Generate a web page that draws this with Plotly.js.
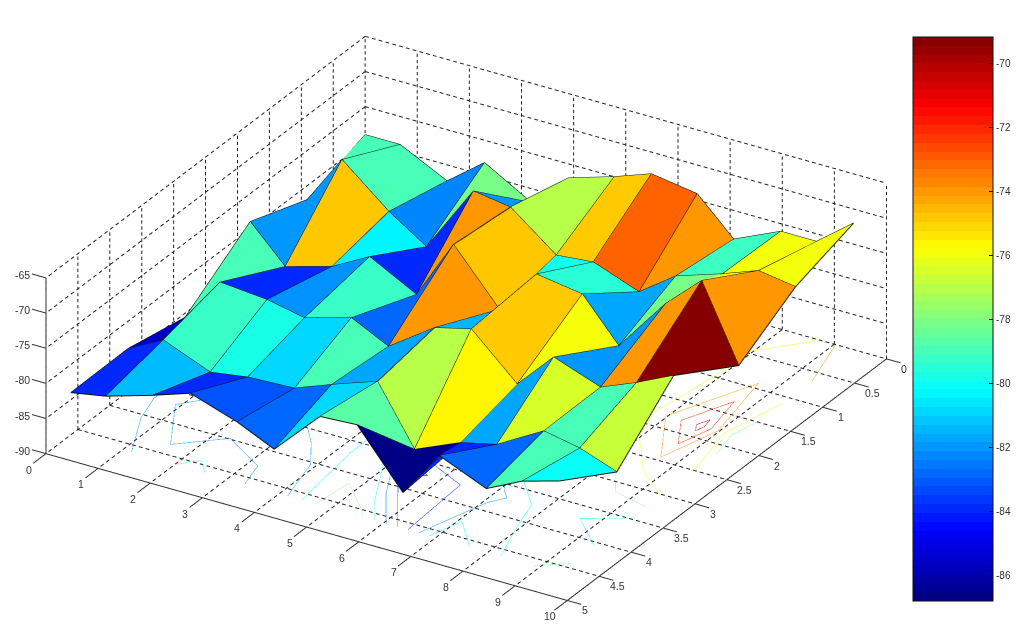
<!DOCTYPE html>
<html><head><meta charset="utf-8"><script src="https://cdn.plot.ly/plotly-3.0.1.min.js"></script>
<style>html,body{margin:0;padding:0;background:#fff}#c{width:1024px;height:626px}</style></head>
<body><div id="c"></div><script>
const xCols=[0,0.67,1.57,2.29,3.19,3.9,4.78,5.49,6.37,7.07,7.97,8.66,9.37];
const yRows=[0,0.91,1.80,2.82,3.71,4.61];
const zRow0=[-79,-79,-82.3,-78.2,-82,-77,-75,-73.1,-74.1,-79.1,-76.1,-76.1,-72];
const zRow1=[-82,-74.9,-80.4,-83.9,-74.1,-74.9,-79.9,-79.4,-81.8,-78.1,-75.9,-74,-74.8];
const zRow2=[-79,-84,-82.1,-79.2,-82.7,-74.1,-81.5,-75,-76,-81.9,-74,-69.3,-79.9];
const zRow3=[-85.6,-79.2,-79.8,-80.9,-79,-81.6,-77.1,-75.8,-81.8,-76.5,-78.9,-76.8,-74.3];
const zRow4=[-83.9,-81.3,-84,-83.2,-82.9,-80.9,-78.6,-86.8,-84,-82.8,-79,-80,-81.9];
const zRow5=[-84,-83.1,-81.1,-79.3,-81.5,-83.9,-77.4,-77.1,-84.9,-78.2,-81,-78.5,-77];
const contourLevels=[-86,-84,-82,-80,-78,-76,-74,-72,-70];
const xTicks=[0,1,2,3,4,5,6,7,8,9,10];
const yTicks=[0,0.5,1,1.5,2,2.5,3,3.5,4,4.5,5];
const zTicks=[-90,-85,-80,-75,-70,-65];
const barTicks=[-70,-72,-74,-76,-78,-80,-82,-84,-86];
const cmin=-86.8,cmax=-69.16;

const Z=[zRow0,zRow1,zRow2,zRow3,zRow4,zRow5];
const R=yRows.length,C=xCols.length;
function jet(t){const c=v=>Math.round(255*Math.max(0,Math.min(1,v)));
  const f=o=>1.5-Math.abs(4*t-o);return 'rgb('+c(f(3))+','+c(f(2))+','+c(f(1))+')';}
const colorscale=[];for(let n=0;n<64;n++){const col=jet((n+0.5)/64);colorscale.push([n/64,col],[(n+1)/64,col]);}
const fy=v=>-v;
const vx=[],vy=[],vz=[],ii=[],jj=[],kk=[],inten=[];
for(let r=0;r<R;r++)for(let c=0;c<C;c++){vx.push(xCols[c]);vy.push(fy(yRows[r]));vz.push(Z[r][c]);}
const id=(r,c)=>r*C+c;
for(let r=0;r<R-1;r++)for(let c=0;c<C-1;c++){
  ii.push(id(r,c),id(r,c));jj.push(id(r,c+1),id(r+1,c+1));kk.push(id(r+1,c+1),id(r+1,c));
  inten.push(Z[r][c],Z[r][c]);
}
const traces=[];
traces.push({type:'mesh3d',x:vx,y:vy,z:vz,i:ii,j:jj,k:kk,intensity:inten,intensitymode:'cell',colorscale:colorscale,cmin:cmin,cmax:cmax,
  flatshading:true,lighting:{ambient:1,diffuse:0,specular:0,roughness:1,fresnel:0},hoverinfo:'skip',
  colorbar:{x:913/1024,xanchor:'left',xpad:0,y:1-37/626,yanchor:'top',ypad:0,thickness:80,thicknessmode:'pixels',len:564,lenmode:'pixels',
    tickvals:barTicks,ticktext:barTicks.map(String),ticks:'inside',ticklen:4,tickcolor:'#111',outlinewidth:1,outlinecolor:'#111',
    tickfont:{family:'Liberation Sans',size:10,color:'#333'}}});
// surface edges
const ex=[],ey=[],ez=[];
for(let r=0;r<R;r++){for(let c=0;c<C;c++){ex.push(xCols[c]);ey.push(fy(yRows[r]));ez.push(Z[r][c]);}ex.push(null);ey.push(null);ez.push(null);}
for(let c=0;c<C;c++){for(let r=0;r<R;r++){ex.push(xCols[c]);ey.push(fy(yRows[r]));ez.push(Z[r][c]);}ex.push(null);ey.push(null);ez.push(null);}
traces.push({type:'scatter3d',mode:'lines',x:ex,y:ey,z:ez,line:{color:'#111',width:2},hoverinfo:'skip',showlegend:false});
// contours on floor
const zFloor=-90;
contourLevels.forEach(l=>{
  const X=[],Y=[],W=[];
  const ip=(r1,c1,r2,c2)=>{const a=Z[r1][c1],b=Z[r2][c2],t=(l-a)/(b-a);
    return [xCols[c1]+t*(xCols[c2]-xCols[c1]),yRows[r1]+t*(yRows[r2]-yRows[r1])];};
  for(let r=0;r<R-1;r++)for(let c=0;c<C-1;c++){
    const e=[[r,c,r,c+1],[r,c+1,r+1,c+1],[r+1,c+1,r+1,c],[r+1,c,r,c]];
    const pts=[];e.forEach(s=>{const a=Z[s[0]][s[1]],b=Z[s[2]][s[3]];if((a<l)!==(b<l))pts.push(ip(...s));});
    for(let n=0;n+1<pts.length;n+=2){X.push(pts[n][0],pts[n+1][0],null);Y.push(fy(pts[n][1]),fy(pts[n+1][1]),null);W.push(zFloor,zFloor,null);}
  }
  traces.push({type:'scatter3d',mode:'lines',x:X,y:Y,z:W,line:{color:jet((l-cmin)/(cmax-cmin)),width:1.5},opacity:0.6,hoverinfo:'skip',showlegend:false});
});
// grid: dashes built along each grid line
const gx=[],gy=[],gz=[];
function dashed(a,b,n){for(let q=0;q<n;q++){const s=q/n,t=(q+0.55)/n;
  gx.push(a[0]+s*(b[0]-a[0]),a[0]+t*(b[0]-a[0]),null);
  gy.push(fy(a[1]+s*(b[1]-a[1])),fy(a[1]+t*(b[1]-a[1])),null);
  gz.push(a[2]+s*(b[2]-a[2]),a[2]+t*(b[2]-a[2]),null);}}
xTicks.forEach(t=>{dashed([t,0,-90],[t,5,-90],57);dashed([t,0,-90],[t,0,-65],29);});
yTicks.forEach(t=>{dashed([0,t,-90],[10,t,-90],77);dashed([0,t,-90],[0,t,-65],29);});
zTicks.forEach(t=>{dashed([0,0,t],[10,0,t],77);dashed([0,0,t],[0,5,t],57);});
traces.push({type:'scatter3d',mode:'lines',x:gx,y:gy,z:gz,line:{color:'#222',width:2},hoverinfo:'skip',showlegend:false});
// axes and ticks
const ax=[],ay=[],az=[];
const sg=(a,b)=>{ax.push(a[0],b[0],null);ay.push(fy(a[1]),fy(b[1]),null);az.push(a[2],b[2],null);};
sg([0,5,-90],[10,5,-90]);sg([10,5,-90],[10,0,-90]);sg([0,5,-90],[0,5,-65]);
xTicks.forEach(t=>sg([t,5,-90],[t,5.2,-90]));
yTicks.forEach(t=>sg([10,t,-90],[10.27,t,-90]));
zTicks.forEach(t=>sg([0,5,t],[-0.27,5,t]));
traces.push({type:'scatter3d',mode:'lines',x:ax,y:ay,z:az,line:{color:'#333',width:2},hoverinfo:'skip',showlegend:false});
const font={family:'Liberation Sans',size:10.5,color:'#333'};
const ann=[];
const lab=(x,y,z,t,xs,ys)=>ann.push({x:x,y:fy(y),z:z,text:String(t),showarrow:false,xshift:xs,yshift:ys,font:font,xanchor:'center',yanchor:'middle'});
xTicks.forEach(t=>lab(t,5,-90,t,-17,-16));
yTicks.forEach(t=>lab(10,t,-90,t,18,-10));
zTicks.forEach(t=>lab(0,5,t,t,-23,3));
const hidden={visible:false,showgrid:false,zeroline:false,showspikes:false,showticklabels:false,showline:false};
const barShapes=barTicks.map(t=>{const yy=(601-564*(t-cmin)/(cmax-cmin));return {type:'line',xref:'paper',yref:'paper',x0:913/1024,x1:917/1024,y0:1-yy/626,y1:1-yy/626,line:{color:'#111',width:1}};});
const d=4,e=[0.4619,-0.7572,0.4616],v=[0.1344,0.0997,0.029];
const layout={width:1024,height:626,margin:{l:0,r:0,t:0,b:0},paper_bgcolor:'#fff',showlegend:false,shapes:barShapes,
 scene:{domain:{x:[0,1],y:[0,1]},bgcolor:'#fff',annotations:ann,
  xaxis:Object.assign({range:[-0.3,10.3]},hidden),yaxis:Object.assign({range:[-5.3,0.1]},hidden),zaxis:Object.assign({range:[-90.5,-64.5]},hidden),
  aspectmode:'manual',aspectratio:{x:2.068,y:2.115,z:0.6583},
  camera:{projection:{type:'orthographic'},up:{x:0,y:0,z:1},center:{x:v[0],y:v[1],z:v[2]},eye:{x:d*e[0]+v[0],y:d*e[1]+v[1],z:d*e[2]+v[2]}}}};
Plotly.newPlot('c',traces,layout,{displayModeBar:false});
</script></body></html>
